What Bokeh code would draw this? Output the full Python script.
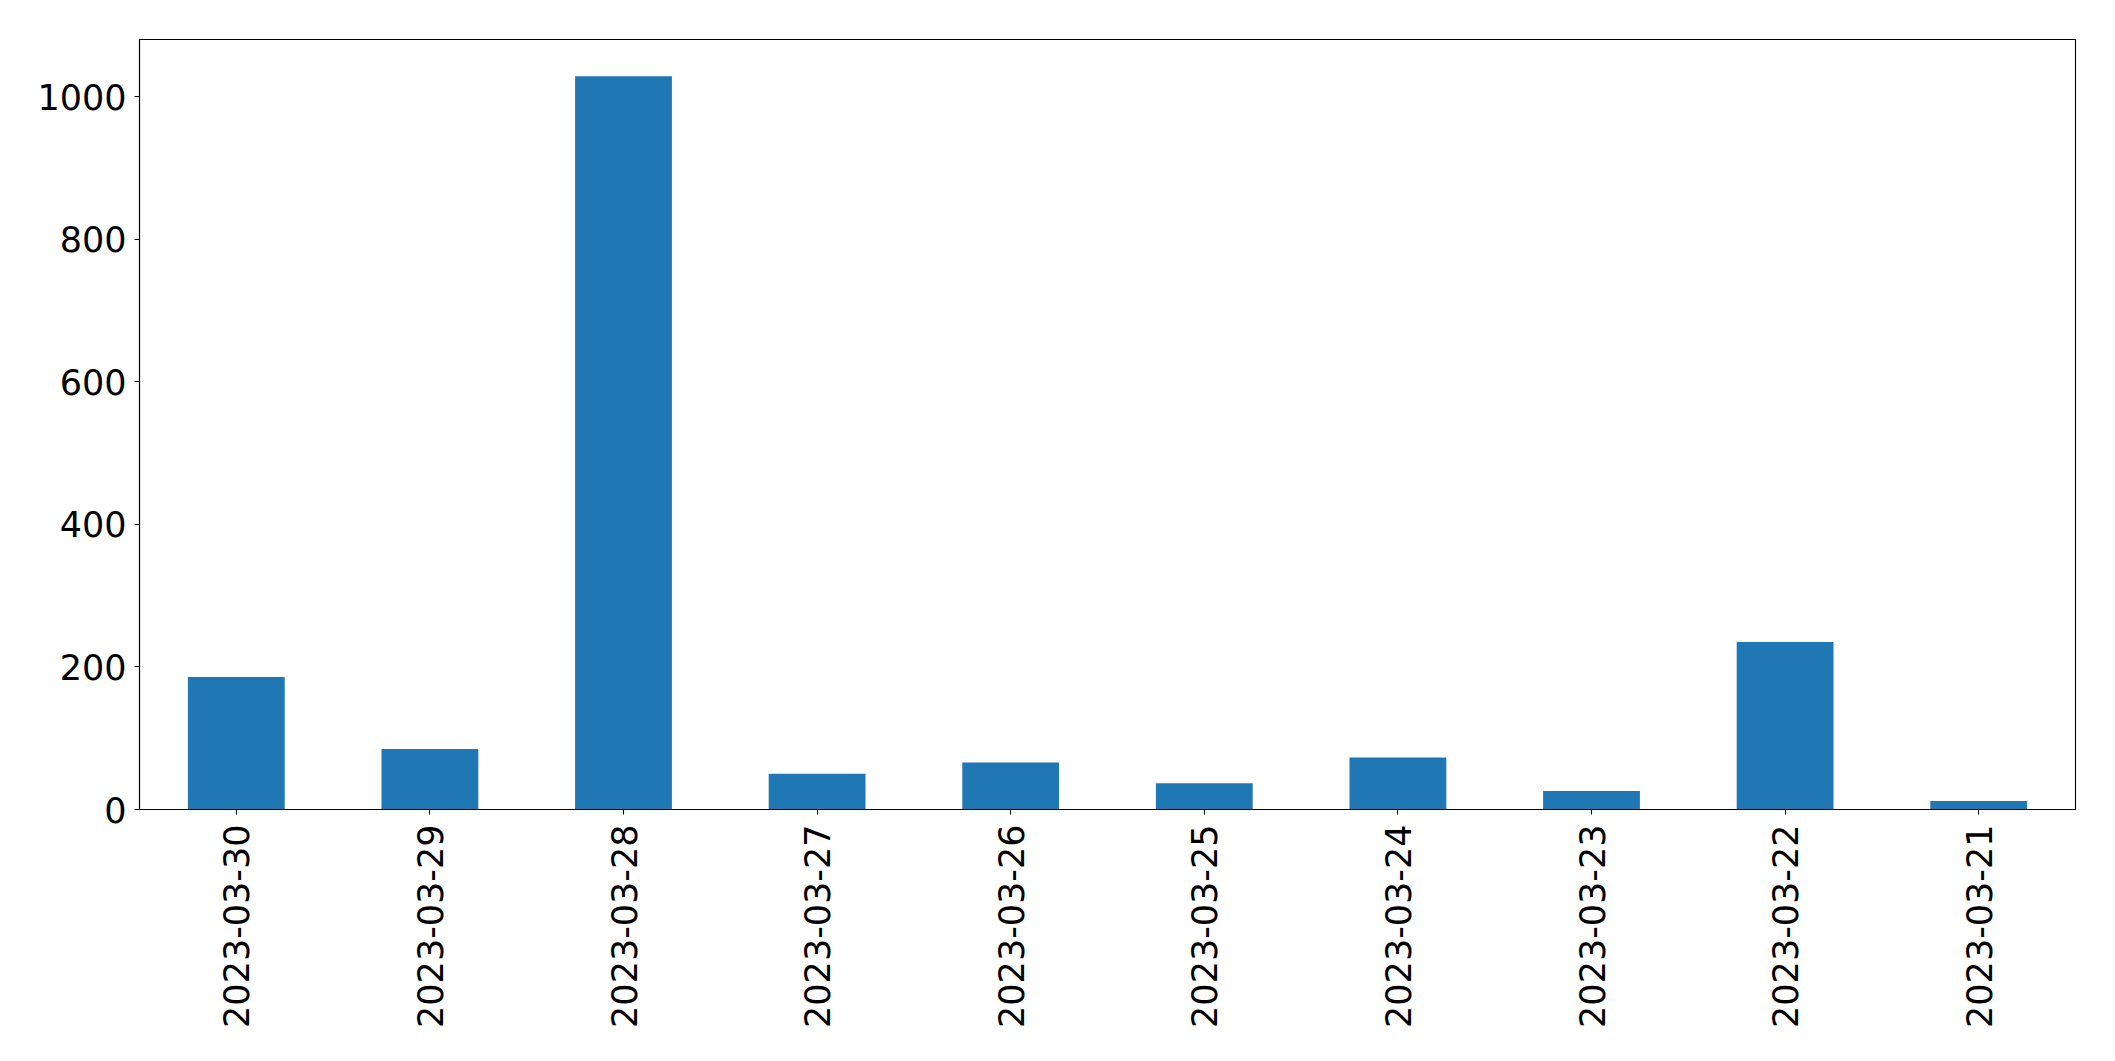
import math
from bokeh.plotting import figure
from bokeh.models import Range1d, FactorRange, FixedTicker, ColumnDataSource
from bokeh.embed import file_html
from bokeh.resources import INLINE

dates = ["2023-03-30", "2023-03-29", "2023-03-28", "2023-03-27", "2023-03-26",
         "2023-03-25", "2023-03-24", "2023-03-23", "2023-03-22", "2023-03-21"]
counts = [186, 85, 1029, 50, 66, 37, 73, 26, 235, 12]
y_ticks = [0, 200, 400, 600, 800, 1000]

src = ColumnDataSource(data=dict(date=dates, count=counts))

p = figure(width=2099, height=1045, output_backend="svg", toolbar_location=None,
           x_range=FactorRange(factors=dates), y_range=Range1d(0, 1080.5),
           min_border_left=139, min_border_top=39, min_border_right=24, min_border_bottom=236)

p.vbar(x="date", top="count", width=0.5, source=src, color="#1f77b4", line_color=None)

p.xgrid.visible = False
p.ygrid.visible = False
p.outline_line_color = "black"
p.outline_line_width = 1.1

for ax in (p.xaxis[0], p.yaxis[0]):
    ax.axis_line_color = "black"
    ax.axis_line_width = 1.1
    ax.major_tick_line_color = "black"
    ax.major_tick_line_width = 1.1
    ax.major_tick_out = 5
    ax.major_tick_in = 0
    ax.minor_tick_line_color = None
    ax.major_label_text_font = "DejaVu Sans"
    ax.major_label_text_font_size = "35px"
    ax.major_label_text_color = "black"

p.yaxis[0].ticker = FixedTicker(ticks=y_ticks)
p.yaxis[0].major_label_standoff = 8
p.xaxis[0].major_label_orientation = math.pi / 2
p.xaxis[0].major_label_standoff = 10

open("out.html", "w").write(file_html(p, INLINE))
